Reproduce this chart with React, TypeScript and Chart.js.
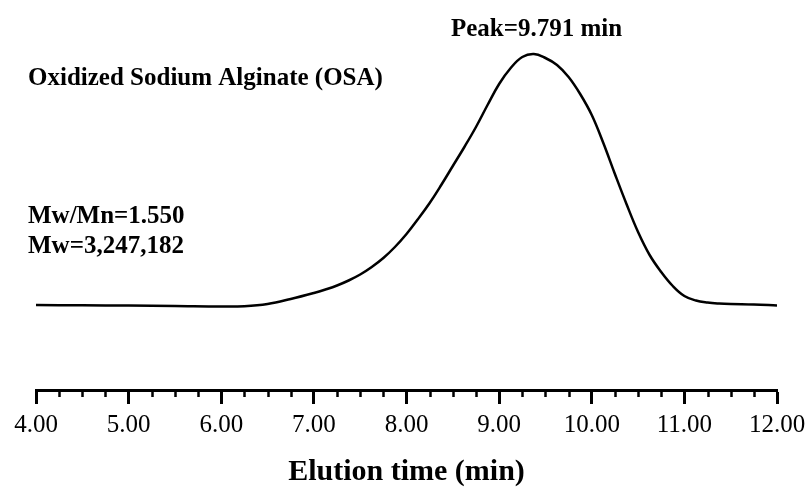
import React, { useEffect, useRef } from "react";
import { Chart, registerables } from "chart.js";

Chart.register(...registerables);

// Elution time (min)
const elutionTime = [
  4.0, 4.5, 5.0, 5.5, 6.0, 6.25, 6.5, 6.75,
  7.0, 7.125, 7.25, 7.375, 7.5, 7.625, 7.75, 7.875,
  8.0, 8.125, 8.25, 8.375, 8.5, 8.625, 8.75, 8.875,
  9.0, 9.125, 9.25, 9.375, 9.5, 9.625, 9.75, 9.875,
  10.0, 10.125, 10.25, 10.375, 10.5, 10.625, 10.75, 10.875,
  11.0, 11.125, 11.25, 11.375, 11.5, 11.75, 12.0,
];
// Detector response (arbitrary units)
const response = [
  0, -0.3, -0.6, -1, -1.5, -1.2, 1, 6,
  12, 15.5, 19.5, 24.5, 30.5, 38, 47, 58,
  71, 86, 102, 120, 139, 158, 178, 200,
  221, 237, 248, 251, 247, 240, 228, 211,
  190, 162, 131, 101, 73, 50, 33, 19,
  9, 4.5, 2.5, 1.5, 1, 0.5, -0.5,
];

const majorTicks = [4, 5, 6, 7, 8, 9, 10, 11, 12];
const tickLabels = ["4.00", "5.00", "6.00", "7.00", "8.00", "9.00", "10.00", "11.00", "12.00"];
const minorTicks = [
  4.25, 4.5, 4.75, 5.25, 5.5, 5.75, 6.25, 6.5, 6.75, 7.25, 7.5, 7.75, 8.25,
  8.5, 8.75, 9.25, 9.5, 9.75, 10.25, 10.5, 10.75, 11.25, 11.5, 11.75,
];

const xTitle = "Elution time (min)";
const annotationTexts = [
  "Peak=9.791 min",
  "Oxidized Sodium Alginate (OSA)",
  "Mw/Mn=1.550",
  "Mw=3,247,182",
];

const SERIF = '"Liberation Serif", "Times New Roman", Times, serif';

// layout positions of the text annotations (pixels)
const annotationLayout = [
  { x: 536.5, y: 36, align: "center" },
  { x: 28, y: 85, align: "left" },
  { x: 28, y: 223, align: "left" },
  { x: 28, y: 253, align: "left" },
];

const bgPlugin = {
  id: "bg",
  beforeDraw(chart: any) {
    const { ctx, width, height } = chart;
    ctx.save();
    ctx.fillStyle = "#ffffff";
    ctx.fillRect(0, 0, width, height);
    ctx.restore();
  },
};

const extrasPlugin = {
  id: "extras",
  afterDraw(chart: any) {
    const { ctx } = chart;
    const xs = chart.scales.x;
    ctx.save();
    // minor ticks
    ctx.strokeStyle = "#000";
    ctx.lineWidth = 2.5;
    ctx.beginPath();
    for (const v of minorTicks) {
      const px = Math.round(xs.getPixelForValue(v)) + 0.5;
      ctx.moveTo(px, xs.top);
      ctx.lineTo(px, xs.top + 7);
    }
    ctx.stroke();
    // annotations
    ctx.fillStyle = "#000";
    ctx.font = `bold 25px ${SERIF}`;
    ctx.textBaseline = "alphabetic";
    annotationTexts.forEach((t, i) => {
      const a = annotationLayout[i];
      ctx.textAlign = a.align as CanvasTextAlign;
      ctx.fillText(t, a.x, a.y);
    });
    ctx.restore();
  },
};

export default function App() {
  const ref = useRef<HTMLCanvasElement | null>(null);

  useEffect(() => {
    if (!ref.current) return;
    const chart = new Chart(ref.current, {
      type: "line",
      data: {
        datasets: [
          {
            data: elutionTime.map((t, i) => ({ x: t, y: response[i] })),
            borderColor: "#000",
            borderWidth: 2.5,
            pointRadius: 0,
            tension: 0.4,
            fill: false,
          },
        ],
      },
      options: {
        animation: false,
        responsive: false,
        layout: { padding: { left: 36, right: 33, top: 40, bottom: 0 } },
        plugins: {
          legend: { display: false },
          tooltip: { enabled: false },
        },
        scales: {
          x: {
            type: "linear",
            min: 4,
            max: 12,
            position: "bottom",
            afterBuildTicks: (s: any) => {
              s.ticks = majorTicks.map((v) => ({ value: v }));
            },
            afterFit: (s: any) => {
              s.height = 97;
              s.paddingLeft = 0;
              s.paddingRight = 0;
            },
            ticks: {
              autoSkip: false,
              maxRotation: 0,
              color: "#000",
              padding: 9,
              font: { family: SERIF, size: 25, lineHeight: 1 },
              callback: (v: any) => {
                const idx = majorTicks.indexOf(Number(v));
                return idx >= 0 ? tickLabels[idx] : "";
              },
            },
            grid: {
              drawOnChartArea: false,
              drawTicks: true,
              tickLength: 14,
              tickWidth: 3,
              tickColor: "#000",
            },
            border: { display: true, width: 3, color: "#000" },
            title: {
              display: true,
              text: xTitle,
              color: "#000",
              font: { family: SERIF, size: 30, weight: "bold", lineHeight: 1 },
              padding: { top: 0, bottom: 0 },
            },
          },
          y: {
            display: false,
            min: -85,
            max: 265,
          },
        },
      },
      plugins: [bgPlugin, extrasPlugin],
    });
    return () => chart.destroy();
  }, []);

  return (
    <div style={{ position: "absolute", left: 0, top: 0, width: 810, height: 487 }}>
      <canvas ref={ref} width={810} height={487} />
    </div>
  );
}
